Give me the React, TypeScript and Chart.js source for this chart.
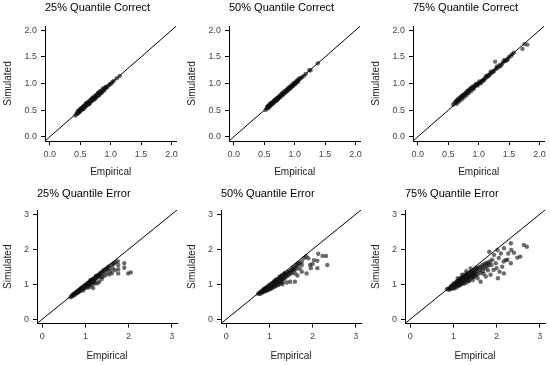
import React, { useEffect, useRef } from "react";
import { Chart, registerables } from "chart.js";

Chart.register(...registerables);

const FONT = "'Liberation Sans', Arial, Helvetica, sans-serif";

// ---- text ----
const panelTitles = [
  "25% Quantile Correct",
  "50% Quantile Correct",
  "75% Quantile Correct",
  "25% Quantile Error",
  "50% Quantile Error",
  "75% Quantile Error",
];
const xAxisTitle = "Empirical";
const yAxisTitle = "Simulated";

// ---- axes ----
const topLimits = [-0.08, 2.08];
const bottomLimits = [-0.12, 3.12];
const topTicks = [0, 0.5, 1, 1.5, 2];
const topTickLabels = ["0.0", "0.5", "1.0", "1.5", "2.0"];
const bottomTicks = [0, 1, 2, 3];
const bottomTickLabels = ["0", "1", "2", "3"];

// ---- data: 25% quantile, correct ----
const c25Emp = [
  0.42, 0.44, 0.45, 0.46, 0.47, 0.48, 0.48, 0.49, 0.5, 0.5,
  0.51, 0.52, 0.52, 0.53, 0.54, 0.54, 0.55, 0.56, 0.56, 0.57,
  0.58, 0.58, 0.59, 0.6, 0.6, 0.61, 0.62, 0.62, 0.63, 0.64,
  0.65, 0.65, 0.66, 0.67, 0.68, 0.69, 0.7, 0.71, 0.72, 0.73,
  0.74, 0.75, 0.76, 0.77, 0.78, 0.79, 0.8, 0.81, 0.82, 0.83,
  0.84, 0.85, 0.86, 0.87, 0.88, 0.89, 0.9, 0.92, 0.93, 0.95,
  0.97, 0.99, 1.01, 1.03, 1.05, 1.1, 1.15,
  0.45, 0.47, 0.49, 0.51, 0.53, 0.55, 0.57, 0.59, 0.61, 0.63,
  0.65, 0.67, 0.69, 0.71, 0.73, 0.75, 0.77, 0.79, 0.81, 0.83,
  0.85, 0.87, 0.89, 0.91, 0.55, 0.6, 0.65, 0.7, 0.75, 0.8,
];
const c25Sim = [
  0.4, 0.43, 0.46, 0.44, 0.48, 0.46, 0.5, 0.48, 0.51, 0.49,
  0.52, 0.51, 0.54, 0.52, 0.55, 0.53, 0.56, 0.55, 0.58, 0.56,
  0.59, 0.57, 0.6, 0.59, 0.62, 0.6, 0.63, 0.61, 0.64, 0.63,
  0.66, 0.64, 0.67, 0.66, 0.69, 0.68, 0.71, 0.7, 0.73, 0.72,
  0.75, 0.74, 0.77, 0.76, 0.79, 0.78, 0.81, 0.8, 0.83, 0.82,
  0.85, 0.84, 0.87, 0.86, 0.89, 0.88, 0.91, 0.91, 0.94, 0.94,
  0.97, 0.99, 1.0, 1.03, 1.05, 1.1, 1.14,
  0.43, 0.49, 0.47, 0.53, 0.51, 0.57, 0.55, 0.62, 0.59, 0.66,
  0.62, 0.7, 0.67, 0.74, 0.7, 0.78, 0.75, 0.82, 0.78, 0.86,
  0.82, 0.9, 0.87, 0.93, 0.52, 0.63, 0.62, 0.73, 0.72, 0.83,
];

// ---- data: 50% quantile, correct ----
const c50Emp = [
  0.52, 0.54, 0.55, 0.56, 0.57, 0.58, 0.58, 0.59, 0.6, 0.61,
  0.62, 0.62, 0.63, 0.64, 0.65, 0.66, 0.66, 0.67, 0.68, 0.69,
  0.7, 0.7, 0.71, 0.72, 0.73, 0.74, 0.75, 0.76, 0.77, 0.78,
  0.79, 0.8, 0.81, 0.82, 0.83, 0.84, 0.85, 0.86, 0.87, 0.88,
  0.89, 0.9, 0.91, 0.92, 0.93, 0.94, 0.95, 0.96, 0.97, 0.98,
  0.99, 1.0, 1.01, 1.02, 1.04, 1.05, 1.06, 1.08, 1.1, 1.12,
  1.15, 1.18, 1.24, 1.26, 1.38,
  0.55, 0.57, 0.59, 0.61, 0.63, 0.65, 0.67, 0.69, 0.71, 0.73,
  0.75, 0.77, 0.79, 0.81, 0.83, 0.85, 0.87, 0.89, 0.91, 0.93,
  0.95, 0.97, 0.99, 1.01, 1.03, 1.05, 1.07, 0.6, 0.7, 0.8,
];
const c50Sim = [
  0.5, 0.53, 0.56, 0.54, 0.58, 0.56, 0.59, 0.6, 0.58, 0.62,
  0.61, 0.63, 0.64, 0.63, 0.66, 0.65, 0.67, 0.68, 0.67, 0.7,
  0.69, 0.71, 0.72, 0.71, 0.74, 0.73, 0.76, 0.75, 0.78, 0.77,
  0.8, 0.79, 0.82, 0.81, 0.84, 0.83, 0.86, 0.85, 0.88, 0.87,
  0.9, 0.89, 0.92, 0.91, 0.94, 0.93, 0.96, 0.95, 0.98, 0.97,
  1.0, 0.99, 1.02, 1.01, 1.04, 1.06, 1.05, 1.09, 1.1, 1.12,
  1.14, 1.18, 1.25, 1.25, 1.38,
  0.57, 0.55, 0.61, 0.59, 0.65, 0.63, 0.69, 0.67, 0.73, 0.71,
  0.77, 0.75, 0.81, 0.79, 0.85, 0.83, 0.89, 0.87, 0.93, 0.91,
  0.97, 0.95, 1.01, 0.99, 1.05, 1.03, 1.09, 0.62, 0.68, 0.82,
];

// ---- data: 75% quantile, correct ----
const c75Emp = [
  0.58, 0.6, 0.62, 0.63, 0.64, 0.65, 0.66, 0.67, 0.68, 0.69,
  0.7, 0.71, 0.72, 0.73, 0.74, 0.75, 0.76, 0.77, 0.78, 0.79,
  0.8, 0.81, 0.82, 0.83, 0.84, 0.85, 0.86, 0.87, 0.88, 0.89,
  0.9, 0.91, 0.92, 0.93, 0.94, 0.95, 0.96, 0.97, 0.98, 1.0,
  1.02, 1.04, 1.05, 1.07, 1.09, 1.1, 1.12, 1.14, 1.15, 1.17,
  1.19, 1.2, 1.22, 1.25, 1.27, 1.28, 1.3, 1.33, 1.35, 1.38,
  1.4, 1.43, 1.45, 1.48, 1.5, 1.53, 1.58, 1.72, 1.75, 1.8,
  0.62, 0.64, 0.66, 0.68, 0.7, 0.72, 0.74, 0.76, 0.78, 0.8,
  0.82, 0.84, 0.86, 0.88, 0.9, 0.92, 0.95, 0.98, 1.01, 1.04,
  1.08, 1.12, 1.16, 1.2, 1.24, 1.3, 1.36, 1.42, 1.47, 1.55,
];
const c75Sim = [
  0.6, 0.63, 0.64, 0.67, 0.66, 0.69, 0.68, 0.71, 0.7, 0.73,
  0.72, 0.75, 0.74, 0.77, 0.76, 0.78, 0.79, 0.8, 0.82, 0.81,
  0.84, 0.83, 0.85, 0.87, 0.86, 0.88, 0.89, 0.9, 0.91, 0.9,
  0.93, 0.92, 0.94, 0.95, 0.96, 0.97, 0.98, 0.99, 0.98, 1.01,
  1.0, 1.03, 1.05, 1.06, 1.07, 1.1, 1.11, 1.13, 1.15, 1.16,
  1.18, 1.2, 1.21, 1.24, 1.41, 1.27, 1.29, 1.31, 1.35, 1.36,
  1.4, 1.42, 1.43, 1.47, 1.5, 1.52, 1.58, 1.65, 1.74, 1.73,
  0.66, 0.62, 0.7, 0.66, 0.74, 0.7, 0.78, 0.74, 0.81, 0.78,
  0.86, 0.82, 0.9, 0.86, 0.94, 0.9, 0.98, 0.96, 1.04, 1.02,
  1.06, 1.14, 1.14, 1.22, 1.22, 1.32, 1.33, 1.44, 1.44, 1.55,
];

// ---- data: 25% quantile, error ----
const e25Emp = [
  0.66, 0.68, 0.7, 0.71, 0.72, 0.74, 0.75, 0.76, 0.77, 0.78,
  0.79, 0.8, 0.81, 0.82, 0.83, 0.84, 0.85, 0.86, 0.87, 0.88,
  0.89, 0.9, 0.91, 0.92, 0.93, 0.94, 0.95, 0.96, 0.97, 0.98,
  0.99, 1.0, 1.01, 1.02, 1.03, 1.04, 1.05, 1.06, 1.07, 1.08,
  1.09, 1.1, 1.11, 1.12, 1.13, 1.14, 1.15, 1.16, 1.18, 1.2,
  1.22, 1.24, 1.26, 1.28, 1.3, 1.32, 1.35, 1.38, 1.4, 1.43,
  1.46, 1.5, 1.55, 1.6, 1.65, 1.7, 1.75, 0.95, 1.05, 1.1,
  1.18, 1.15, 1.22, 1.28, 1.32, 1.4, 1.38, 1.45, 1.49, 1.52,
  1.55, 1.61, 1.63, 1.65, 1.76, 1.76, 1.76, 1.9, 1.9, 1.99,
  2.05, 1.68, 1.58, 1.25, 1.12, 0.9, 1.0, 1.2, 1.35, 1.08,
  0.7, 0.73, 0.76, 0.79, 0.82, 0.85, 0.88, 0.91, 0.94, 0.97,
  1.0, 1.03, 1.06, 1.09, 1.12, 1.15, 1.18, 1.21, 1.24, 1.27,
  0.8, 0.9, 1.0, 1.1, 1.2, 1.3, 1.35, 1.42, 1.48, 1.53,
];
const e25Sim = [
  0.63, 0.66, 0.67, 0.7, 0.68, 0.72, 0.7, 0.74, 0.73, 0.76,
  0.74, 0.78, 0.76, 0.8, 0.77, 0.82, 0.79, 0.83, 0.8, 0.86,
  0.83, 0.87, 0.84, 0.9, 0.86, 0.91, 0.88, 0.93, 0.89, 0.95,
  0.91, 0.97, 0.92, 0.99, 0.95, 1.01, 0.96, 1.03, 0.98, 1.05,
  1.0, 1.07, 1.02, 1.09, 1.04, 1.11, 1.06, 1.13, 1.1, 1.16,
  1.12, 1.2, 1.18, 1.25, 1.22, 1.28, 1.3, 1.33, 1.36, 1.38,
  1.42, 1.45, 1.5, 1.55, 1.6, 1.63, 1.66, 0.82, 0.9, 0.93,
  0.89, 0.97, 1.02, 1.03, 1.07, 1.22, 1.15, 1.25, 1.31, 1.41,
  1.28, 1.31, 1.46, 1.58, 1.43, 1.31, 1.55, 1.6, 1.47, 1.31,
  1.34, 1.4, 1.38, 1.24, 1.12, 0.89, 0.95, 1.05, 1.21, 1.02,
  0.69, 0.71, 0.75, 0.77, 0.81, 0.82, 0.86, 0.88, 0.92, 0.93,
  0.98, 0.99, 1.04, 1.04, 1.1, 1.09, 1.16, 1.15, 1.22, 1.2,
  0.75, 0.85, 0.94, 1.03, 1.13, 1.26, 1.33, 1.4, 1.44, 1.5,
];

// ---- data: 50% quantile, error ----
const e50Emp = [
  0.74, 0.76, 0.78, 0.79, 0.8, 0.82, 0.83, 0.84, 0.85, 0.86,
  0.87, 0.88, 0.89, 0.9, 0.91, 0.92, 0.93, 0.94, 0.95, 0.96,
  0.97, 0.98, 0.99, 1.0, 1.01, 1.02, 1.03, 1.04, 1.05, 1.06,
  1.07, 1.08, 1.09, 1.1, 1.11, 1.12, 1.13, 1.14, 1.15, 1.16,
  1.17, 1.18, 1.2, 1.21, 1.22, 1.24, 1.25, 1.26, 1.28, 1.29,
  1.3, 1.32, 1.33, 1.35, 1.36, 1.38, 1.4, 1.42, 1.44, 1.46,
  1.48, 1.5, 1.52, 1.55, 1.58, 1.6, 1.63, 1.66, 1.7, 1.75,
  1.8, 1.85, 1.4, 1.48, 1.59, 1.59, 1.55, 1.67, 1.75, 1.75,
  1.86, 1.94, 2.0, 1.96, 2.11, 2.03, 2.11, 1.9, 2.13, 2.23,
  2.31, 2.34, 1.2, 1.3, 1.65, 1.7, 1.05, 1.15, 1.25, 1.35,
  0.8, 0.84, 0.87, 0.9, 0.93, 0.96, 0.99, 1.02, 1.05, 1.08,
  1.11, 1.14, 1.17, 1.2, 1.23, 1.26, 1.29, 1.32, 1.35, 1.38,
  0.9, 1.0, 1.1, 1.2, 1.3, 1.4, 1.45, 1.5, 1.55, 1.62,
];
const e50Sim = [
  0.73, 0.74, 0.76, 0.73, 0.78, 0.79, 0.76, 0.82, 0.8, 0.78,
  0.85, 0.82, 0.8, 0.88, 0.84, 0.81, 0.9, 0.86, 0.83, 0.93,
  0.88, 0.84, 0.95, 0.9, 0.86, 0.98, 0.92, 0.88, 1.0, 0.95,
  0.9, 1.03, 0.97, 0.92, 1.06, 1.0, 0.94, 1.08, 1.02, 0.96,
  1.1, 1.04, 1.13, 1.06, 1.0, 1.16, 1.09, 1.03, 1.2, 1.12,
  1.06, 1.24, 1.15, 1.28, 1.18, 1.3, 1.22, 1.33, 1.26, 1.36,
  1.3, 1.4, 1.33, 1.44, 1.4, 1.5, 1.45, 1.56, 1.6, 1.65,
  1.75, 1.8, 1.05, 1.07, 1.07, 1.31, 1.43, 1.6, 1.55, 1.36,
  1.31, 1.55, 1.58, 1.46, 1.46, 1.69, 1.67, 1.74, 1.87, 1.81,
  1.81, 1.55, 0.98, 1.0, 1.25, 1.45, 0.97, 1.13, 1.22, 1.31,
  0.77, 0.8, 0.86, 0.85, 0.91, 0.89, 0.97, 0.94, 1.03, 0.99,
  1.09, 1.05, 1.14, 1.1, 1.2, 1.14, 1.26, 1.19, 1.3, 1.25,
  0.85, 0.93, 1.01, 1.08, 1.17, 1.28, 1.35, 1.38, 1.48, 1.55,
];

// ---- data: 75% quantile, error ----
const e75Emp = [
  0.85, 0.88, 0.9, 0.92, 0.93, 0.95, 0.96, 0.98, 0.99, 1.0,
  1.01, 1.02, 1.03, 1.04, 1.05, 1.06, 1.07, 1.08, 1.09, 1.1,
  1.11, 1.12, 1.13, 1.14, 1.15, 1.16, 1.17, 1.18, 1.19, 1.2,
  1.21, 1.22, 1.23, 1.24, 1.25, 1.26, 1.27, 1.28, 1.29, 1.3,
  1.31, 1.32, 1.33, 1.34, 1.35, 1.36, 1.37, 1.38, 1.39, 1.4,
  1.42, 1.43, 1.44, 1.45, 1.46, 1.47, 1.48, 1.5, 1.51, 1.52,
  1.54, 1.55, 1.56, 1.58, 1.6, 1.62, 1.63, 1.65, 1.67, 1.68,
  1.7, 1.72, 1.74, 1.76, 1.78, 1.8, 1.82, 1.85, 1.56, 1.63,
  1.75, 1.86, 1.93, 2.0, 2.07, 2.03, 2.17, 2.13, 2.16, 2.21,
  2.33, 2.27, 2.34, 2.33, 2.48, 2.55, 2.63, 2.7, 1.83, 1.94,
  2.1, 2.17, 2.02, 1.9, 1.98, 2.05, 1.88, 1.7, 1.8, 2.25,
  2.4, 1.1, 1.2, 1.3, 1.05, 1.15, 1.25, 1.35, 1.45, 0.95,
  0.95, 1.0, 1.05, 1.08, 1.1, 1.13, 1.15, 1.18, 1.2, 1.22,
  1.25, 1.27, 1.3, 1.32, 1.35, 1.38, 1.4, 1.43, 1.45, 1.48,
  1.5, 1.53, 1.1, 1.2, 1.3, 1.4, 1.15, 1.25, 1.35, 1.45,
];
const e75Sim = [
  0.86, 0.87, 0.84, 0.9, 0.86, 0.92, 0.88, 0.95, 0.9, 0.97,
  0.92, 0.88, 1.0, 0.94, 1.05, 0.96, 0.91, 1.02, 0.98, 1.08,
  0.95, 1.12, 1.03, 0.99, 1.15, 1.06, 1.0, 1.18, 1.1, 1.04,
  1.2, 1.13, 1.07, 1.01, 1.22, 1.15, 1.09, 1.25, 1.18, 1.12,
  1.05, 1.28, 1.2, 1.14, 1.3, 1.22, 1.1, 1.33, 1.25, 1.17,
  1.35, 1.28, 1.2, 1.12, 1.38, 1.3, 1.22, 1.42, 1.33, 1.25,
  1.45, 1.36, 1.28, 1.48, 1.4, 1.5, 1.32, 1.45, 1.55, 1.38,
  1.5, 1.58, 1.45, 1.6, 1.52, 1.62, 1.55, 1.65, 1.17, 1.07,
  1.22, 1.27, 1.41, 1.46, 1.36, 1.17, 1.31, 1.5, 1.65, 1.69,
  1.6, 1.88, 1.98, 2.17, 1.76, 1.79, 2.12, 2.07, 1.93, 1.84,
  1.88, 2.03, 1.98, 1.7, 1.6, 1.75, 1.55, 1.3, 1.4, 1.7,
  1.9, 1.0, 1.08, 1.18, 0.98, 1.05, 1.13, 1.22, 1.3, 0.93,
  0.95, 1.02, 0.99, 1.08, 1.03, 1.14, 1.06, 1.1, 1.19, 1.15,
  1.27, 1.16, 1.23, 1.31, 1.19, 1.27, 1.35, 1.24, 1.33, 1.4,
  1.3, 1.46, 1.17, 1.27, 1.37, 1.45, 0.97, 1.05, 1.1, 1.2,
];

const panelData = [
  { emp: c25Emp, sim: c25Sim },
  { emp: c50Emp, sim: c50Sim },
  { emp: c75Emp, sim: c75Sim },
  { emp: e25Emp, sim: e25Sim },
  { emp: e50Emp, sim: e50Sim },
  { emp: e75Emp, sim: e75Sim },
];

const rowLayout = [
  {
    top: 0, height: 182, yAxisWidth: 45, xAxisHeight: 41,
    titlePad: { top: 1.4, bottom: 11.4 }, yTitlePad: 2.5, xTitlePad: 3.3,
    limits: topLimits, ticks: topTicks, tickLabels: topTickLabels,
  },
  {
    top: 182, height: 183, yAxisWidth: 37, xAxisHeight: 41.5,
    titlePad: { top: 5.4, bottom: 9.4 }, yTitlePad: 2, xTitlePad: 3,
    limits: bottomLimits, ticks: bottomTicks, tickLabels: bottomTickLabels,
  },
];
const colLefts = [0, 184, 368];
const CANVAS_W = 182;

function Panel({ index }: { index: number }) {
  const ref = useRef<HTMLCanvasElement | null>(null);
  const row = Math.floor(index / 3);
  const col = index % 3;
  const L = rowLayout[row];

  useEffect(() => {
    if (!ref.current) return;
    const { emp, sim } = panelData[index];
    const points = emp.map((x, i) => ({ x, y: sim[i] }));
    const [lo, hi] = L.limits;

    const axisCommon = (isX: boolean) => ({
      type: "linear" as const,
      min: lo,
      max: hi,
      afterBuildTicks: (scale: any) => {
        scale.ticks = L.ticks.map((v) => ({ value: v }));
      },
      afterFit: (scale: any) => {
        if (isX) scale.height = L.xAxisHeight;
        else scale.width = L.yAxisWidth;
      },
      grid: {
        display: true,
        drawOnChartArea: false,
        drawTicks: true,
        tickLength: 4,
        color: "#000",
        lineWidth: 1,
      },
      border: { display: true, color: "#000", width: 1 },
      ticks: {
        padding: 4,
        color: "#444",
        autoSkip: false,
        maxRotation: 0,
        minRotation: 0,
        font: { family: FONT, size: 9 },
        callback: (value: any) => {
          const k = L.ticks.findIndex((t) => Math.abs(t - Number(value)) < 1e-9);
          return k >= 0 ? L.tickLabels[k] : "";
        },
      },
      title: {
        display: true,
        text: isX ? xAxisTitle : yAxisTitle,
        color: "#222",
        font: { family: FONT, size: 10 },
        padding: isX ? { top: 0, bottom: L.xTitlePad } : { top: L.yTitlePad, bottom: 0 },
      },
    });

    const chart = new Chart(ref.current, {
      type: "scatter",
      data: {
        datasets: [
          {
            data: [
              { x: lo, y: lo },
              { x: hi, y: hi },
            ],
            showLine: true,
            borderColor: "#000",
            borderWidth: 1,
            pointRadius: 0,
            fill: false,
            order: 0,
          } as any,
          {
            data: points,
            pointRadius: 2.2,
            pointBorderWidth: 0,
            pointBackgroundColor: "rgba(20,20,20,0.62)",
            backgroundColor: "rgba(20,20,20,0.62)",
            borderWidth: 0,
            order: 1,
          } as any,
        ],
      },
      options: {
        responsive: false,
        animation: false,
        events: [],
        layout: { padding: { left: 0, top: 0, right: 5, bottom: 0 } },
        plugins: {
          legend: { display: false },
          tooltip: { enabled: false },
          title: {
            display: true,
            text: panelTitles[index],
            align: "start",
            fullSize: false,
            color: "#000",
            font: { family: FONT, size: 11, weight: "normal" },
            padding: L.titlePad,
          } as any,
        },
        scales: {
          x: axisCommon(true) as any,
          y: axisCommon(false) as any,
        },
      },
    });
    return () => chart.destroy();
  }, [index]);

  return (
    <canvas
      ref={ref}
      width={CANVAS_W}
      height={L.height}
      style={{
        position: "absolute",
        left: colLefts[col],
        top: L.top,
        width: CANVAS_W,
        height: L.height,
      }}
    />
  );
}

export default function App() {
  return (
    <div
      style={{
        position: "fixed",
        left: 0,
        top: 0,
        width: 550,
        height: 365,
        background: "#fff",
        overflow: "hidden",
      }}
    >
      {[0, 1, 2, 3, 4, 5].map((i) => (
        <Panel key={i} index={i} />
      ))}
    </div>
  );
}
